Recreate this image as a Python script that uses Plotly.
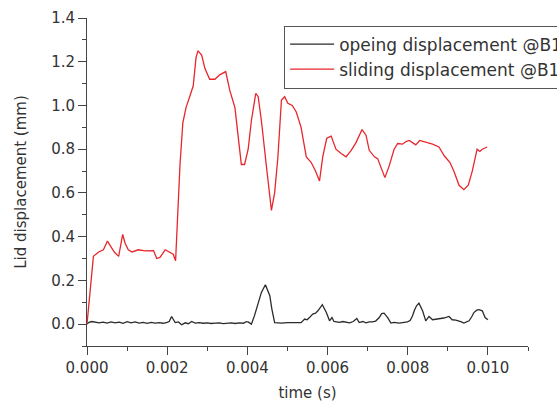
import plotly.graph_objects as go

# ---- data ----
red_t = [0.0, 0.00005, 0.00010, 0.00016, 0.00029, 0.00041, 0.00051, 0.00058, 0.00068, 0.00079,
         0.00089, 0.00095, 0.00103, 0.00112, 0.00128, 0.00145, 0.00166, 0.00174, 0.00182, 0.00195,
         0.00207, 0.00215, 0.00221, 0.00224, 0.00228, 0.00232, 0.00239, 0.00247, 0.00258, 0.00265,
         0.00272, 0.00277, 0.00286, 0.00294, 0.00306, 0.00319, 0.00331, 0.00346, 0.00356, 0.00369,
         0.00377, 0.00385, 0.00393, 0.00402, 0.00410, 0.00421, 0.00427, 0.00435, 0.00447, 0.00460,
         0.00468, 0.00476, 0.00485, 0.00493, 0.00501, 0.00512, 0.00522, 0.00534, 0.00547, 0.00559,
         0.00570, 0.00580, 0.00588, 0.00598, 0.00609, 0.00621, 0.00634, 0.00646, 0.00659, 0.00671,
         0.00686, 0.00696, 0.00704, 0.00717, 0.00725, 0.00733, 0.00743, 0.00754, 0.00766, 0.00775,
         0.00787, 0.00796, 0.00804, 0.00812, 0.00820, 0.00830, 0.00845, 0.00862, 0.00878, 0.00891,
         0.00905, 0.00915, 0.00928, 0.00940, 0.00951, 0.00961, 0.00973, 0.00980, 0.00986, 0.00998]
red_y = [0.0, 0.10, 0.22, 0.31, 0.33, 0.34, 0.38, 0.36, 0.33, 0.31,
         0.41, 0.37, 0.34, 0.33, 0.34, 0.335, 0.336, 0.30, 0.305, 0.34,
         0.33, 0.32, 0.29, 0.43, 0.60, 0.73, 0.92, 0.99, 1.05, 1.09,
         1.22, 1.25, 1.23, 1.17, 1.12, 1.12, 1.14, 1.155, 1.07, 0.99,
         0.86, 0.73, 0.73, 0.80, 0.93, 1.055, 1.04, 0.93, 0.73, 0.52,
         0.60, 0.76, 1.025, 1.04, 1.01, 1.00, 0.97, 0.90, 0.765, 0.74,
         0.70, 0.655, 0.765, 0.85, 0.86, 0.80, 0.78, 0.765, 0.795, 0.83,
         0.89, 0.864, 0.795, 0.765, 0.757, 0.72, 0.67, 0.725, 0.80, 0.826,
         0.823, 0.835, 0.84, 0.83, 0.82, 0.84, 0.833, 0.823, 0.81, 0.77,
         0.74, 0.70, 0.635, 0.615, 0.635, 0.70, 0.80, 0.79, 0.80, 0.81]

black_t = [0.0, 0.00005, 0.00012, 0.00020, 0.00030, 0.00040, 0.00050, 0.00060, 0.00070, 0.00080,
           0.00090, 0.00100, 0.00110, 0.00120, 0.00130, 0.00140, 0.00150, 0.00160, 0.00170, 0.00180,
           0.00190, 0.00200, 0.00205, 0.00211, 0.00216, 0.00220, 0.00228, 0.00236, 0.00245, 0.00253,
           0.00261, 0.00270, 0.00280, 0.00290, 0.00300, 0.00310, 0.00320, 0.00330, 0.00340, 0.00350,
           0.00360, 0.00370, 0.00380, 0.00390, 0.00396, 0.00402, 0.00410, 0.00418, 0.00427, 0.00435,
           0.00445, 0.00456, 0.00461, 0.00468, 0.00476, 0.00485, 0.00500, 0.00520, 0.00534, 0.00543,
           0.00549, 0.00555, 0.00563, 0.00570, 0.00576, 0.00587, 0.00597, 0.00605, 0.00611, 0.00616,
           0.00621, 0.00630, 0.00638, 0.00646, 0.00655, 0.00664, 0.00673, 0.00679, 0.00688, 0.00696,
           0.00704, 0.00712, 0.00720, 0.00729, 0.00735, 0.00741, 0.00750, 0.00758, 0.00766, 0.00779,
           0.00790, 0.00799, 0.00806, 0.00812, 0.00817, 0.00822, 0.00828, 0.00837, 0.00845, 0.00853,
           0.00862, 0.00870, 0.00878, 0.00890, 0.00903, 0.00911, 0.00920, 0.00928, 0.00934, 0.00940,
           0.00947, 0.00953, 0.00960, 0.00965, 0.00972, 0.00978, 0.00986, 0.00993, 0.01000]
black_y = [0.0, 0.008, 0.012, 0.010, 0.006, 0.009, 0.005, 0.010, 0.006, 0.009,
           0.004, 0.011, 0.006, 0.010, 0.005, 0.008, 0.004, 0.008, 0.005, 0.007,
           0.004, 0.008, 0.012, 0.035, 0.020, 0.007, 0.010, -0.003, 0.006, 0.002,
           0.012, 0.005, 0.007, 0.004, 0.006, 0.003, 0.005, 0.006, 0.002, 0.005,
           0.006, 0.003, 0.006, 0.004, 0.010, 0.010, 0.000, 0.040, 0.100, 0.145,
           0.180, 0.130, 0.070, 0.007, 0.006, 0.005, 0.007, 0.007, 0.007, 0.023,
           0.020, 0.030, 0.046, 0.050, 0.061, 0.089, 0.053, 0.015, 0.030, 0.012,
           0.010, 0.008, 0.012, 0.010, 0.006, 0.012, 0.026, 0.007, 0.012, 0.006,
           0.010, 0.010, 0.014, 0.030, 0.048, 0.050, 0.030, 0.005, 0.008, 0.005,
           0.008, 0.010, 0.016, 0.038, 0.065, 0.084, 0.096, 0.061, 0.015, 0.035,
           0.020, 0.022, 0.023, 0.028, 0.035, 0.020, 0.018, 0.015, 0.010, 0.005,
           0.012, 0.015, 0.035, 0.053, 0.064, 0.066, 0.061, 0.030, 0.020]

series_names = ["opeing displacement @B1", "sliding displacement @B1"]
x_title = "time (s)"
y_title = "Lid displacement (mm)"

FONT = "DejaVu Sans, Verdana, sans-serif"
TXT = "#333333"

fig = go.Figure()
fig.add_trace(go.Scatter(x=black_t, y=black_y, mode="lines", name=series_names[0],
                         line=dict(color="#2a2a2a", width=1.3)))
fig.add_trace(go.Scatter(x=red_t, y=red_y, mode="lines", name=series_names[1],
                         line=dict(color="#e8262c", width=1.3)))

axis_common = dict(showline=True, linecolor="#444444", linewidth=1, showgrid=False,
                   zeroline=False, ticks="outside", ticklen=8, tickwidth=1, tickcolor="#444444",
                   tickfont=dict(family=FONT, size=15, color=TXT), mirror=False)

fig.update_layout(
    width=557, height=402,
    margin=dict(l=87, r=29, t=18, b=56, autoexpand=False),
    paper_bgcolor="white", plot_bgcolor="white",
    font=dict(family=FONT, color=TXT),
    xaxis=dict(range=[0, 0.011], tick0=0, dtick=0.002, tickformat=".3f",
               minor=dict(ticks="outside", ticklen=4, dtick=0.001, tickcolor="#444444"),
               title=dict(text=x_title, font=dict(family=FONT, size=15, color=TXT), standoff=12),
               **axis_common),
    yaxis=dict(range=[-0.1, 1.4], tick0=0, dtick=0.2, tickformat=".1f",
               minor=dict(ticks="outside", ticklen=4, dtick=0.1, tickcolor="#444444"),
               title=dict(text=y_title, font=dict(family=FONT, size=15, color=TXT), standoff=20),
               **axis_common),
    legend=dict(x=0.447, y=0.977, xanchor="left", yanchor="top",
                bgcolor="white", bordercolor="#555555", borderwidth=1,
                font=dict(family=FONT, size=17, color=TXT), tracegroupgap=0,
                itemwidth=44),
    showlegend=True,
)

fig.write_html("out.html", config={"displayModeBar": False},
               post_script="document.body.style.margin='0px';")
